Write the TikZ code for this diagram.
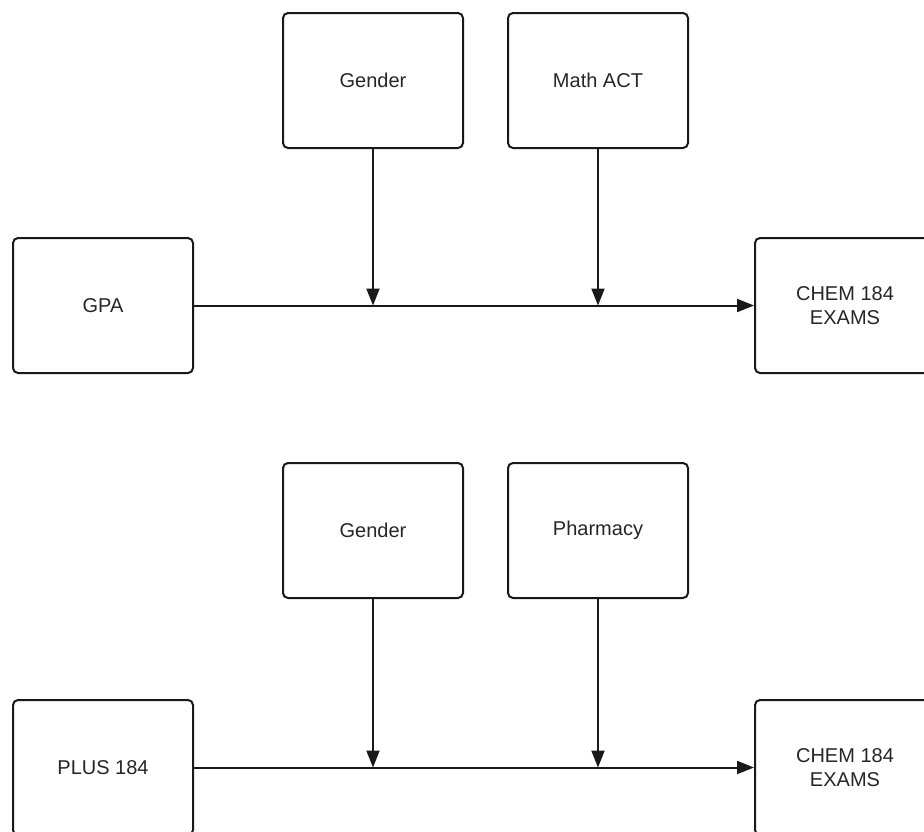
\documentclass[tikz,border=0pt]{standalone}
\usepackage{fontspec}
\setmainfont{Liberation Sans}
\usetikzlibrary{arrows.meta}
\begin{document}
\begin{tikzpicture}[x=1pt,y=-1pt,
  box/.style={draw=black!90, line width=2pt, rounded corners=5pt,
    minimum width=180pt, minimum height=135pt, inner sep=0pt,
    align=center, font=\fontsize{20}{24}\selectfont, text=black!85},
  link/.style={draw=black!90, line width=2pt,
    -{Triangle[length=17pt,width=13pt]}}]
\useasboundingbox (0,0) rectangle (924,831);
\clip (0,0) rectangle (924,831);
% upper model
\node[box] (g1)   at (373,80.5)  {Gender};
\node[box] (act)  at (598,80.5)  {Math ACT};
\node[box] (gpa)  at (103,305.5) {GPA};
\node[box] (ex1)  at (845,305.5) {CHEM 184\\EXAMS};
\coordinate (m1) at (g1.south |- gpa.east);
\coordinate (m2) at (act.south |- gpa.east);
\draw[link] (gpa.east) -- (ex1.west);
\draw[link] (g1.south) -- (m1);
\draw[link] (act.south) -- (m2);
% lower model
\node[box] (g2)   at (373,530.5) {Gender};
\node[box] (ph)   at (598,530.5) {Pharmacy};
\node[box] (plus) at (103,767.5) {PLUS 184};
\node[box] (ex2)  at (845,767.5) {CHEM 184\\EXAMS};
\coordinate (m3) at (g2.south |- plus.east);
\coordinate (m4) at (ph.south |- plus.east);
\draw[link] (plus.east) -- (ex2.west);
\draw[link] (g2.south) -- (m3);
\draw[link] (ph.south) -- (m4);
\end{tikzpicture}
\end{document}
